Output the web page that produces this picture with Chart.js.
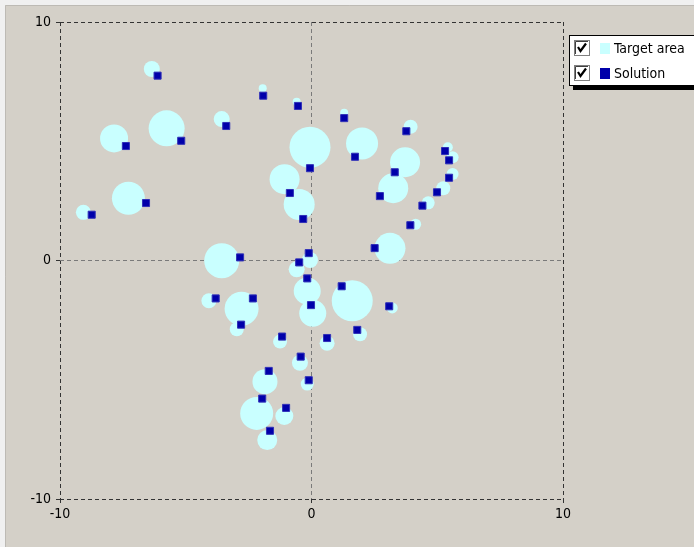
<!DOCTYPE html>
<html>
<head>
<meta charset="utf-8">
<script src="https://cdn.jsdelivr.net/npm/chart.js@4"></script>
<style>
  html, body { margin: 0; padding: 0; background: #f0f0f0; }
  canvas { display: block; }
</style>
</head>
<body>
<canvas id="chart" width="694" height="547"></canvas>
<script>
// 目标区域（圆）
const targetX = [-6.35, -5.76, -7.85, -3.57, -1.94, -0.59, 1.30, -0.06, 2.01, 3.94, 3.72, 5.42, 5.61, 5.61,
  -1.07, -0.49, 3.25, 5.24, 4.64, 4.14, 3.12, -0.06, -0.59, -0.17, 0.05, 1.62, 3.21, -7.28, -9.07,
  -3.57, -4.08, -2.78, -2.97, -1.25, 0.62, 1.93, -0.46, -0.17, -1.85, -2.18, -1.08, -1.76];
const targetY = [8.03, 5.54, 5.12, 5.93, 7.22, 6.66, 6.20, 4.75, 4.91, 5.61, 4.12, 4.75, 4.33, 3.63,
  3.41, 2.35, 3.03, 3.03, 2.42, 1.52, 0.51, 0.02, -0.37, -1.28, -2.21, -1.69, -1.99, 2.61, 2.02,
  -0.01, -1.69, -2.02, -2.88, -3.40, -3.47, -3.09, -4.29, -5.18, -5.08, -6.41, -6.52, -7.53];
const targetSize = [8, 18, 14, 8, 4, 4, 4, 20.5, 16, 7, 15, 5, 6, 6,
  15, 15.5, 15, 7, 6.5, 5.5, 15.5, 8, 8, 13.5, 13.5, 20.5, 5.5, 16.5, 7.5,
  17.5, 7.5, 17, 7, 7, 7.5, 7, 8, 6.5, 12.5, 16.5, 9, 10];

// 解
const solutionX = [-6.12, -5.18, -7.38, -3.39, -1.92, -0.54, 1.30, -0.06, 1.73, 3.77, 3.31, 5.31, 5.47, 5.47,
  -0.86, -0.33, 2.72, 4.99, 4.41, 3.93, 2.51, -0.11, -0.49, -0.17, -0.02, 1.20, 3.09, -6.58, -8.74,
  -2.84, -3.81, -2.33, -2.80, -1.17, 0.62, 1.82, -0.43, -0.11, -1.70, -1.96, -1.01, -1.65];
const solutionY = [7.75, 5.02, 4.80, 5.64, 6.91, 6.48, 5.97, 3.87, 4.35, 5.42, 3.70, 4.59, 4.20, 3.47,
  2.83, 1.74, 2.70, 2.86, 2.30, 1.48, 0.52, 0.31, -0.08, -0.75, -1.87, -1.08, -1.92, 2.41, 1.92,
  0.13, -1.59, -1.59, -2.69, -3.19, -3.25, -2.91, -4.03, -5.02, -4.63, -5.79, -6.18, -7.14];

const seriesNames = ['Target area', 'Solution'];
const axisMin = -10;
const axisMax = 10;
const tickStep = 10;

const FONT = '"Liberation Sans Narrow", "DejaVu Sans Condensed", "Liberation Sans", Arial, sans-serif';
Chart.defaults.font.family = FONT;
Chart.defaults.font.size = 14;
Chart.defaults.color = '#000';

const bgPlugin = {
  id: 'bg',
  beforeDraw(chart) {
    const ctx = chart.ctx;
    ctx.save();
    ctx.fillStyle = '#f0f0f0';
    ctx.fillRect(0, 0, chart.width, chart.height);
    ctx.fillStyle = '#D4D0C8';
    ctx.fillRect(5, 5, chart.width - 5, chart.height - 5);
    ctx.strokeStyle = '#bdbab4';
    ctx.lineWidth = 1;
    ctx.beginPath();
    ctx.moveTo(5.5, chart.height);
    ctx.lineTo(5.5, 5.5);
    ctx.lineTo(chart.width, 5.5);
    ctx.stroke();
    ctx.restore();
  }
};

// 带复选框的图例
const checkLegend = {
  id: 'checkLegend',
  afterDraw(chart) {
    const ctx = chart.ctx;
    const x0 = 569, y0 = 35;
    ctx.save();
    // 阴影
    ctx.fillStyle = '#000';
    ctx.fillRect(x0 + 4, y0 + 51, chart.width - x0, 4);
    ctx.fillStyle = '#fff';
    ctx.fillRect(x0, y0, chart.width - x0, 51);
    ctx.strokeStyle = '#000';
    ctx.lineWidth = 1;
    ctx.strokeRect(x0 + 0.5, y0 + 0.5, chart.width, 50);

    chart.data.datasets.forEach((ds, i) => {
      const cy = y0 + 13 + i * 25;
      // 复选框
      const bx = x0 + 5, by = cy - 8;
      ctx.fillStyle = '#fff';
      ctx.fillRect(bx, by, 16, 16);
      ctx.strokeStyle = '#808080';
      ctx.strokeRect(bx + 0.5, by + 0.5, 15, 15);
      ctx.strokeStyle = '#404040';
      ctx.beginPath();
      ctx.moveTo(bx + 1.5, by + 14);
      ctx.lineTo(bx + 1.5, by + 1.5);
      ctx.lineTo(bx + 14, by + 1.5);
      ctx.stroke();
      ctx.strokeStyle = '#000';
      ctx.lineWidth = 2.2;
      ctx.beginPath();
      ctx.moveTo(bx + 4, by + 7);
      ctx.lineTo(bx + 6.5, by + 11);
      ctx.lineTo(bx + 12, by + 3.5);
      ctx.stroke();
      ctx.lineWidth = 1;
      // 颜色块
      ctx.fillStyle = ds.backgroundColor;
      ctx.fillRect(x0 + 31, cy - 5, 10, 11);
      // 文本
      ctx.fillStyle = '#000';
      ctx.font = '14px ' + FONT;
      ctx.textBaseline = 'middle';
      ctx.textAlign = 'left';
      ctx.fillText(ds.label, x0 + 45, cy + 1);
    });
    ctx.restore();
  }
};

function gridColor(ctx) {
  const v = ctx.tick ? ctx.tick.value : null;
  if (v === 0) return '#7a7a7a';
  return '#333333';
}

const targetData = targetX.map((x, i) => ({ x: x, y: targetY[i], r: targetSize[i] }));
const solutionData = solutionX.map((x, i) => ({ x: x, y: solutionY[i] }));

new Chart(document.getElementById('chart'), {
  type: 'bubble',
  data: {
    datasets: [
      {
        label: seriesNames[0],
        data: targetData,
        backgroundColor: '#C9FFFF',
        borderWidth: 0,
        order: 2
      },
      {
        type: 'scatter',
        label: seriesNames[1],
        data: solutionData,
        backgroundColor: '#0000AA',
        borderColor: '#3030B8',
        borderWidth: 1,
        pointStyle: 'rect',
        pointRadius: 5,
        order: 1
      }
    ]
  },
  options: {
    responsive: false,
    animation: false,
    events: [],
    layout: { padding: { left: 0, top: 22, right: 131, bottom: 0 } },
    plugins: {
      legend: { display: false },
      tooltip: { enabled: false }
    },
    scales: {
      x: {
        type: 'linear',
        min: axisMin,
        max: axisMax,
        afterFit: s => { s.height = 48; },
        ticks: { stepSize: tickStep, padding: 3, maxRotation: 0 },
        border: { display: false, dash: [4, 3] },
        grid: {
          color: gridColor,
          lineWidth: 1,
          drawTicks: true,
          tickLength: 4,
          tickColor: '#333333',
          tickBorderDash: []
        }
      },
      y: {
        type: 'linear',
        min: axisMin,
        max: axisMax,
        afterFit: s => { s.width = 60; },
        ticks: { stepSize: tickStep, padding: 5 },
        border: { display: false, dash: [4, 3] },
        grid: {
          color: gridColor,
          lineWidth: 1,
          drawTicks: true,
          tickLength: 4,
          tickColor: '#333333',
          tickBorderDash: []
        }
      }
    }
  },
  plugins: [bgPlugin, checkLegend]
});
</script>
</body>
</html>
